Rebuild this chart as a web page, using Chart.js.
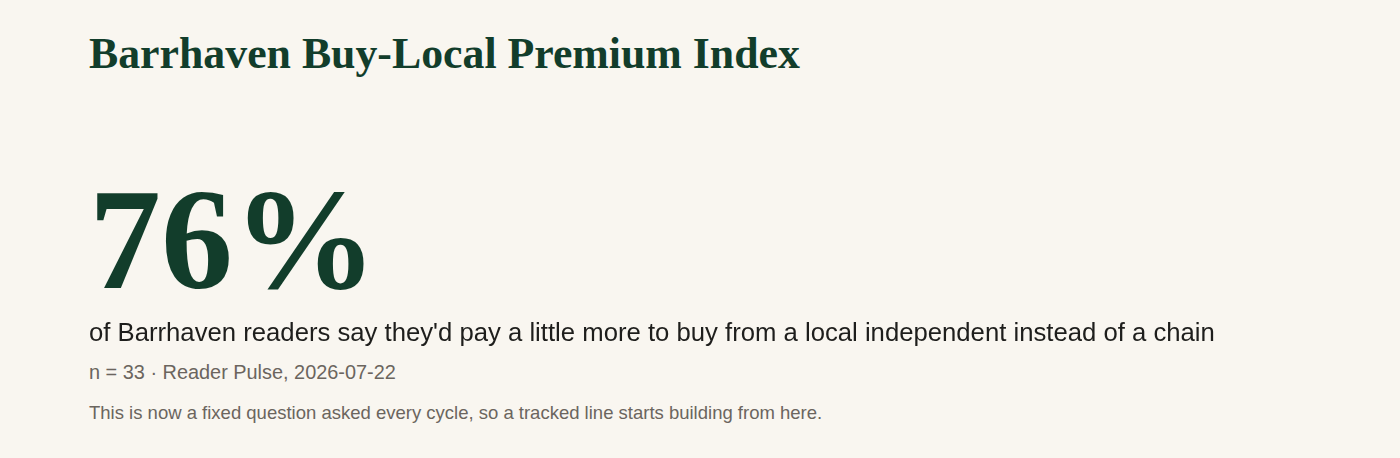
<!DOCTYPE html>
<html>
<head>
<meta charset="utf-8">
<script src="https://cdn.jsdelivr.net/npm/chart.js@4.4.1/dist/chart.umd.min.js"></script>
<style>
  html, body { margin: 0; padding: 0; }
  body { width: 1400px; height: 458px; background: #f9f6f0; position: relative; overflow: hidden; }
  .t { position: absolute; left: 89px; white-space: nowrap; line-height: 1; }
  #title { top: 28px; font: bold 43.8px "Liberation Serif", serif; color: #123d2b; }
  #bignum { position: absolute; left: 0; top: 150px; }
  #statement { top: 318px; font: 25.7px "Liberation Sans", Arial, sans-serif; color: #1e1e1c; }
  #meta { top: 361px; font: 19.9px "Liberation Sans", Arial, sans-serif; color: #6b655e; }
  #note { top: 401.5px; font: 18.5px "Liberation Sans", Arial, sans-serif; color: #6b655e; }
</style>
</head>
<body>
<div class="t" id="title"></div>
<canvas id="bignum" width="600" height="180"></canvas>
<div class="t" id="statement"></div>
<div class="t" id="meta"></div>
<div class="t" id="note"></div>
<script>
const titleText = ["Barrhaven Buy-Local Premium Index"];
const shareValues = [76];
const sampleSizes = [33];
const sourceLabels = ["Reader Pulse, 2026-07-22"];
const statementText = ["of Barrhaven readers say they'd pay a little more to buy from a local independent instead of a chain"];
const noteText = ["This is now a fixed question asked every cycle, so a tracked line starts building from here."];

document.getElementById("title").textContent = titleText[0];
document.getElementById("statement").textContent = statementText[0];
document.getElementById("meta").textContent = `n = ${sampleSizes[0]} \u00b7 ${sourceLabels[0]}`;
document.getElementById("note").textContent = noteText[0];

// headline figure drawn by a chart plugin from the single data point
const bigNumberPlugin = {
  id: "bigNumber",
  afterDraw(chart) {
    const ctx = chart.ctx;
    const v = chart.data.datasets[0].data[0];
    ctx.save();
    ctx.fillStyle = "#123d2b";
    ctx.font = 'bold 144px "Liberation Serif", serif';
    ctx.textBaseline = "alphabetic";
    ctx.textAlign = "left";
    ctx.fillText(`${v}%`, 89, 138);
    ctx.restore();
  },
};

const bignum = document.getElementById("bignum").getContext("2d");
new Chart(bignum, {
  type: "bar",
  data: {
    labels: ["share"],
    datasets: [{ data: shareValues, backgroundColor: "rgba(0,0,0,0)" }],
  },
  options: {
    responsive: false,
    animation: false,
    events: [],
    plugins: { legend: { display: false }, tooltip: { enabled: false } },
    scales: { x: { display: false }, y: { display: false, min: 0, max: 100 } },
  },
  plugins: [bigNumberPlugin],
});
</script>
</body>
</html>
